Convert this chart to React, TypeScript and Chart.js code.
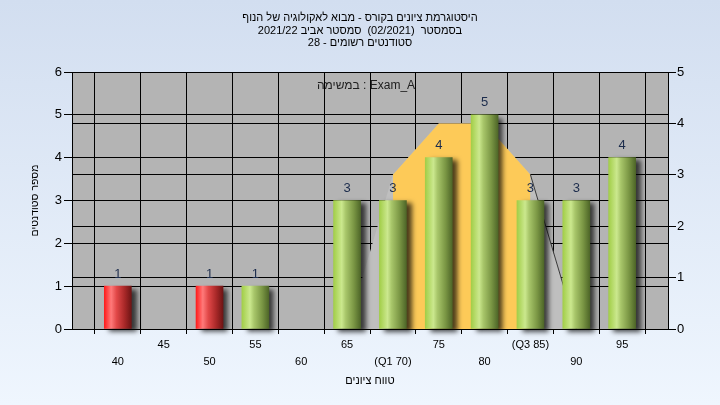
import React, { useEffect, useRef } from 'react';
import { Chart, registerables } from 'chart.js';

Chart.register(...registerables);

const titleLines = [
  'היסטוגרמת ציונים בקורס - מבוא לאקולוגיה של הנוף',
  'בסמסטר  (02/2021)  סמסטר אביב 2021/22',
  'סטודנטים רשומים - 28',
];
const legendText = 'במשימה : Exam_A';
const xAxisTitle = 'טווח ציונים';
const yAxisTitle = 'מספר סטודנטים';

const grades = [40, 45, 50, 55, 60, 65, 70, 75, 80, 85, 90, 95];
const counts = [1, 0, 1, 1, 0, 3, 3, 4, 5, 3, 3, 4];
const passGrade = 55;

const tickText: Record<number, string> = {
  40: '40', 45: '45', 50: '50', 55: '55', 60: '60', 65: '65',
  70: '(Q1 70)', 75: '75', 80: '80', 85: '(Q3 85)', 90: '90', 95: '95',
};
const upperRowTicks = [45, 55, 65, 75, 85, 95];

// distribution shapes (right axis)
const whiskerX = [65, 70, 75, 80, 85, 90];
const whiskerY = [0, 3, 4, 4, 3, 0];
const boxX = [70, 70, 75, 80, 85, 85];
const boxY = [0, 3, 4, 4, 3, 0];
const tailX = [85, 90];
const tailY = [3, 0];

const FONT = "'Liberation Sans', 'DejaVu Sans', sans-serif";

const decorPlugin = {
  id: 'decor',
  beforeDraw(chart: any) {
    const { ctx, width, height, chartArea } = chart;
    ctx.save();
    const g = ctx.createLinearGradient(0, 0, 0, height);
    g.addColorStop(0, '#d2def0');
    g.addColorStop(1, '#eff6fe');
    ctx.fillStyle = g;
    ctx.fillRect(0, 0, width, height);
    ctx.fillStyle = '#b4b4b4';
    ctx.fillRect(chartArea.left, chartArea.top, chartArea.right - chartArea.left, chartArea.bottom - chartArea.top);
    ctx.restore();
  },
  beforeDatasetDraw(chart: any, args: any) {
    if (args.meta.type === 'bar') {
      const ctx = chart.ctx;
      ctx.save();
      ctx.shadowColor = 'rgba(0,0,0,0.7)';
      ctx.shadowBlur = 5;
      ctx.shadowOffsetX = 5;
      ctx.shadowOffsetY = 3;
    }
  },
  afterDatasetDraw(chart: any, args: any) {
    if (args.meta.type === 'bar') {
      chart.ctx.restore();
    }
  },
  afterDraw(chart: any) {
    const { ctx } = chart;
    ctx.save();
    ctx.fillStyle = '#000';
    ctx.textAlign = 'center';
    ctx.textBaseline = 'middle';
    ctx.font = `11px ${FONT}`;
    const ys = [18, 30.5, 43];
    titleLines.forEach((t, i) => ctx.fillText(t, 360, ys[i]));
    ctx.fillStyle = '#202020';
    ctx.font = `12px ${FONT}`;
    ctx.fillText(legendText, 366, 86);

    chart.data.datasets.forEach((ds: any, di: number) => {
      const meta = chart.getDatasetMeta(di);
      if (meta.type !== 'bar') return;
      ctx.fillStyle = '#1c2c4c';
      ctx.font = `13px ${FONT}`;
      meta.data.forEach((el: any, i: number) => {
        const v = ds.data[i].y;
        ctx.fillText(String(v), el.x, el.y - 12);
      });
    });
    ctx.restore();
  },
};

function barGradient(c: any) {
  const chart = c.chart;
  const xs = chart.scales?.x;
  if (!xs || c.type !== 'data' || !c.raw) return '#a0c060';
  const cx = xs.getPixelForValue(c.raw.x);
  if (!Number.isFinite(cx)) return c.raw.x < passGrade ? '#e03030' : '#a0c060';
  const g = chart.ctx.createLinearGradient(cx - 13.5, 0, cx + 13.5, 0);
  if (c.raw.x < passGrade) {
    g.addColorStop(0, '#ff1c1c');
    g.addColorStop(0.25, '#ff7a7a');
    g.addColorStop(0.45, '#e24848');
    g.addColorStop(0.75, '#a82828');
    g.addColorStop(1, '#6e1414');
  } else {
    g.addColorStop(0, '#a2ce48');
    g.addColorStop(0.3, '#cbe88e');
    g.addColorStop(0.45, '#a8c66a');
    g.addColorStop(0.75, '#7a9644');
    g.addColorStop(1, '#4e6628');
  }
  return g;
}

export default function App() {
  const ref = useRef<HTMLCanvasElement>(null);
  useEffect(() => {
    if (!ref.current) return;
    const barData = grades
      .map((g, i) => ({ x: g, y: counts[i] }))
      .filter((p) => p.y > 0);
    const chart = new Chart(ref.current, {
      type: 'bar',
      data: {
        datasets: [
          {
            type: 'bar',
            data: barData,
            xAxisID: 'x',
            yAxisID: 'y',
            barThickness: 27,
            backgroundColor: barGradient,
            borderWidth: 0,
            clip: false,
            order: 0,
          } as any,
          {
            type: 'line',
            data: tailX.map((x, i) => ({ x, y: tailY[i] })),
            xAxisID: 'x',
            yAxisID: 'y2',
            borderColor: '#3a3a3a',
            borderWidth: 1,
            pointRadius: 0,
            fill: false,
            tension: 0,
            order: 1,
          } as any,
          {
            type: 'line',
            data: boxX.map((x, i) => ({ x, y: boxY[i] })),
            xAxisID: 'x',
            yAxisID: 'y2',
            borderColor: 'transparent',
            backgroundColor: '#fdca58',
            pointRadius: 0,
            fill: 'origin',
            tension: 0,
            order: 2,
          } as any,
          {
            type: 'line',
            data: whiskerX.map((x, i) => ({ x, y: whiskerY[i] })),
            xAxisID: 'x',
            yAxisID: 'y2',
            borderColor: 'transparent',
            backgroundColor: '#bfbfbf',
            pointRadius: 0,
            fill: 'origin',
            tension: 0,
            order: 3,
          } as any,
        ],
      },
      options: {
        responsive: false,
        animation: false,
        devicePixelRatio: 1,
        layout: { padding: { top: 72, left: 0, right: 0, bottom: 0 } },
        plugins: {
          legend: { display: false },
          title: { display: false },
          tooltip: { enabled: false },
        },
        scales: {
          x: {
            type: 'linear',
            position: 'bottom',
            min: 35,
            max: 100,
            offset: false,
            ticks: {
              stepSize: 5,
              autoSkip: false,
              maxRotation: 0,
              minRotation: 0,
              padding: 2.5,
              color: '#000',
              font: { family: FONT, size: 11, lineHeight: 17 / 11 },
              callback: (v: any) => {
                const n = Number(v);
                const t = tickText[n];
                if (!t) return '';
                return upperRowTicks.includes(n) ? t : ['', t];
              },
            },
            grid: { color: '#000', lineWidth: 1, tickLength: 5, drawTicks: true },
            border: { color: '#000' },
            title: {
              display: true,
              text: xAxisTitle,
              color: '#000',
              font: { family: FONT, size: 11 },
              padding: { top: 0, bottom: 17.4 },
            },
            afterFit: (s: any) => {
              s.height = 76;
            },
          },
          y: {
            position: 'left',
            min: 0,
            max: 6,
            ticks: { stepSize: 1, padding: 2, color: '#000', font: { family: FONT, size: 13 } },
            grid: { color: '#000', lineWidth: 1, tickLength: 8 },
            border: { color: '#000' },
            title: {
              display: true,
              text: yAxisTitle,
              color: '#000',
              font: { family: FONT, size: 10.5 },
              padding: { top: 28.7, bottom: 0 },
            },
            afterFit: (s: any) => {
              s.width = 72;
            },
          },
          y2: {
            position: 'right',
            min: 0,
            max: 5,
            ticks: { stepSize: 1, padding: 1, color: '#000', font: { family: FONT, size: 13 } },
            grid: { color: '#000', lineWidth: 1, tickLength: 8 },
            border: { color: '#000' },
            afterFit: (s: any) => {
              s.width = 52;
            },
          },
        },
      } as any,
      plugins: [decorPlugin],
    });
    chart.update();
    return () => chart.destroy();
  }, []);
  return (
    <div style={{ position: 'fixed', left: 0, top: 0, width: 720, height: 405 }}>
      <canvas ref={ref} width={720} height={405} style={{ display: 'block', width: 720, height: 405 }} />
    </div>
  );
}
